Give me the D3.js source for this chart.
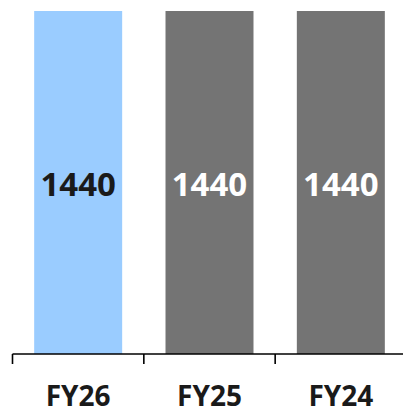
<!DOCTYPE html>
<html>
<head>
<meta charset="utf-8">
<script src="https://cdn.jsdelivr.net/npm/d3@7"></script>
<style>
  html, body { margin: 0; padding: 0; background: #fff; }
  svg { display: block; }
  text { font-family: "Open Sans", sans-serif; font-weight: 700; }
</style>
</head>
<body>
<svg id="chart" width="403" height="410"></svg>
<script>
// Fiscal-year totals
const categories = ["FY26", "FY25", "FY24"];
const values = [1440, 1440, 1440];
const barColors = ["#9ACCFF", "#747474", "#747474"];
const labelColors = ["#1a1a1a", "#ffffff", "#ffffff"];

const svg = d3.select("#chart");
const baseY = 354;

const x = d3.scaleBand()
  .domain(categories)
  .range([12.5, 406.5])
  .padding(0);

const y = d3.scaleLinear()
  .domain([0, 1440])
  .range([baseY, 11]);

const barW = x.bandwidth() * 0.67;

// bars
svg.append("g")
  .selectAll("rect")
  .data(categories)
  .join("rect")
  .attr("x", d => x(d) + (x.bandwidth() - barW) / 2)
  .attr("y", (d, i) => y(values[i]))
  .attr("width", barW)
  .attr("height", (d, i) => y(0) - y(values[i]))
  .attr("fill", (d, i) => barColors[i]);

// value labels inside the bars
svg.append("g")
  .selectAll("text")
  .data(categories)
  .join("text")
  .attr("x", d => x(d) + x.bandwidth() / 2)
  .attr("y", 196)
  .attr("text-anchor", "middle")
  .attr("font-size", 33)
  .attr("fill", (d, i) => labelColors[i])
  .text((d, i) => values[i]);

// category axis: baseline with separators between bands
const axis = svg.append("g").attr("stroke", "#000").attr("stroke-width", 1.6);
axis.append("line")
  .attr("x1", x.range()[0]).attr("x2", x.range()[1])
  .attr("y1", baseY).attr("y2", baseY);
const seps = categories.map(d => x(d)).concat([x.range()[1]]);
axis.selectAll("line.sep")
  .data(seps)
  .join("line")
  .attr("class", "sep")
  .attr("x1", d => d).attr("x2", d => d)
  .attr("y1", baseY).attr("y2", baseY + 10);

// category labels
svg.append("g")
  .selectAll("text")
  .data(categories)
  .join("text")
  .attr("x", d => x(d) + x.bandwidth() / 2)
  .attr("y", 405.5)
  .attr("text-anchor", "middle")
  .attr("font-size", 28)
  .attr("fill", "#1a1a1a")
  .text(d => d);
</script>
</body>
</html>
